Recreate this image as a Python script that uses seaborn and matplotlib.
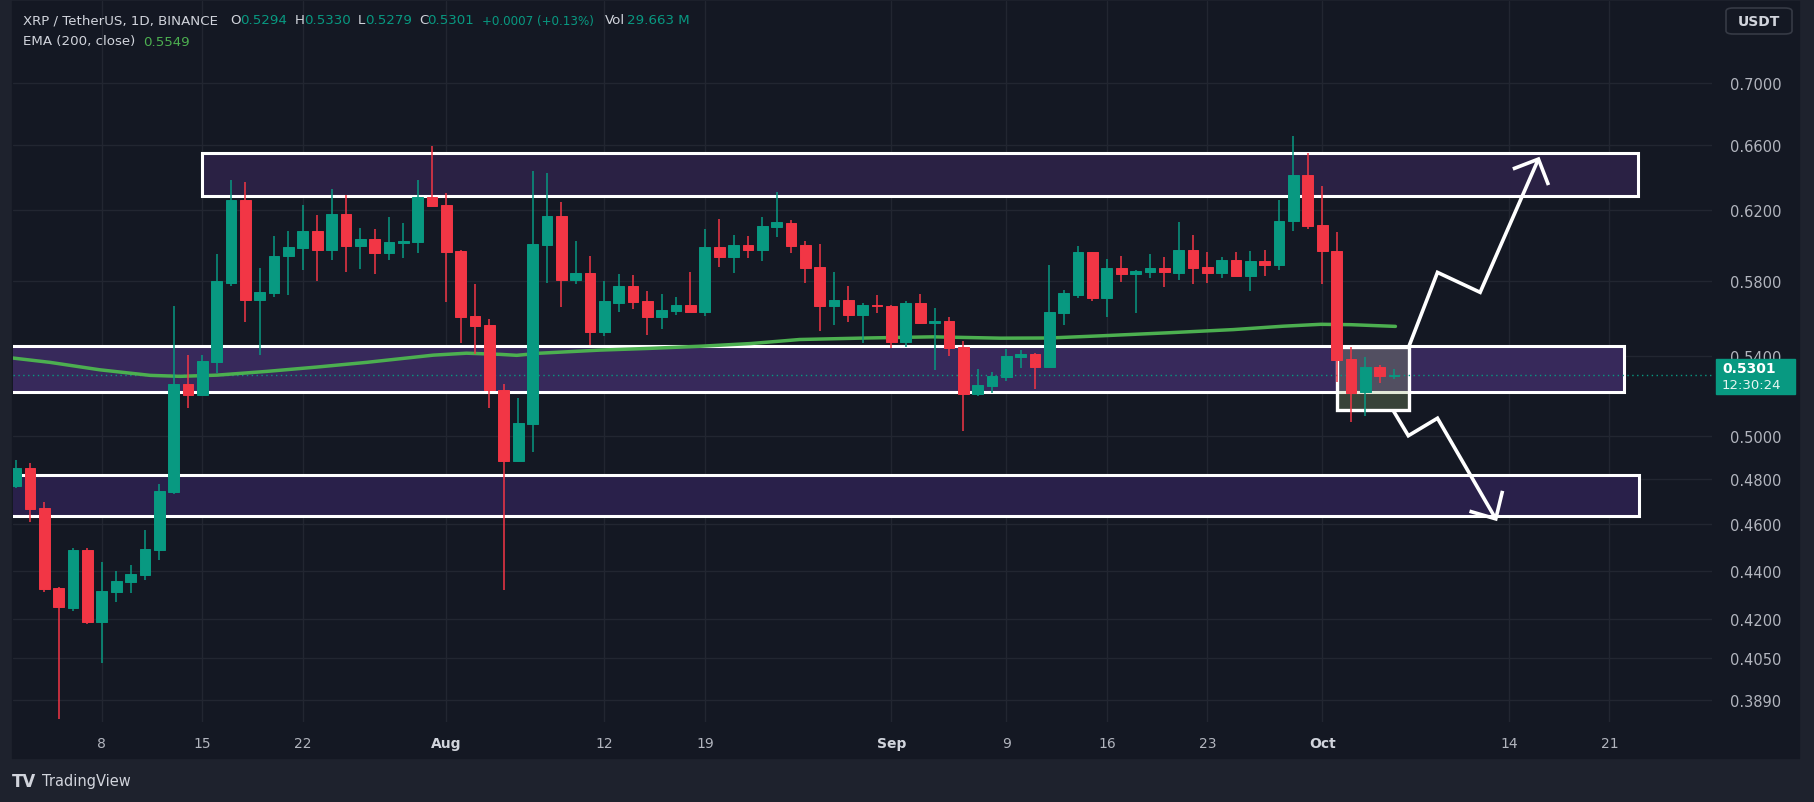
import numpy as np
import pandas as pd
import seaborn as sns
import matplotlib
matplotlib.use("Agg")
import matplotlib.pyplot as plt
from matplotlib.patches import Rectangle, FancyBboxPatch
from matplotlib.ticker import NullLocator
from matplotlib.transforms import blended_transform_factory

# XRP / USDT daily candles, 2 Jul - 6 Oct 2024
dates = pd.date_range("2024-07-02", "2024-10-06", freq="D")
opens = [0.4770, 0.4852, 0.4670, 0.4328, 0.4247, 0.4488, 0.4191, 0.4313, 0.4354, 0.4383,
         0.4488, 0.4743, 0.5256, 0.5203, 0.5369, 0.5788, 0.6262, 0.5692, 0.5731, 0.5937,
         0.5982, 0.6080, 0.5971, 0.6179, 0.5994, 0.6034, 0.5954, 0.6011, 0.6017, 0.6280,
         0.6232, 0.5965, 0.5607, 0.5559, 0.5226, 0.4884, 0.5059, 0.6000, 0.6167, 0.5802,
         0.5841, 0.5522, 0.5677, 0.5770, 0.5688, 0.5602, 0.5634, 0.5666, 0.5628, 0.5988,
         0.5931, 0.6000, 0.5971, 0.6103, 0.6126, 0.6000, 0.5875, 0.5660, 0.5693, 0.5613,
         0.5666, 0.5660, 0.5470, 0.5677, 0.5570, 0.5581, 0.5444, 0.5206, 0.5246, 0.5291,
         0.5393, 0.5408, 0.5341, 0.5623, 0.5720, 0.5960, 0.5703, 0.5869, 0.5836, 0.5847,
         0.5869, 0.5844, 0.5971, 0.5875, 0.5841, 0.5914, 0.5824, 0.5908, 0.5886, 0.6138,
         0.6413, 0.6115, 0.5965, 0.5382, 0.5217, 0.5341, 0.5294]
highs = [0.4890, 0.4875, 0.4696, 0.4331, 0.4496, 0.4496, 0.4436, 0.4398, 0.4424, 0.4574,
         0.4779, 0.5661, 0.5403, 0.5403, 0.5948, 0.6382, 0.6370, 0.5869, 0.6051, 0.6080,
         0.6232, 0.6173, 0.6328, 0.6292, 0.6097, 0.6091, 0.6161, 0.6126, 0.6382, 0.6592,
         0.6304, 0.5970, 0.5780, 0.5591, 0.5256, 0.5186, 0.6437, 0.6425, 0.6250, 0.6022,
         0.5937, 0.5797, 0.5836, 0.5830, 0.5742, 0.5726, 0.5709, 0.5847, 0.6091, 0.6149,
         0.6057, 0.6051, 0.6161, 0.6310, 0.6143, 0.6022, 0.6005, 0.5847, 0.5770, 0.5677,
         0.5720, 0.5666, 0.5688, 0.5726, 0.5650, 0.5602, 0.5476, 0.5331, 0.5316, 0.5434,
         0.5429, 0.5413, 0.5886, 0.5748, 0.5994, 0.5962, 0.5920, 0.5937, 0.5858, 0.5948,
         0.5931, 0.6132, 0.6057, 0.5960, 0.5931, 0.5960, 0.5965, 0.5971, 0.6262, 0.6656,
         0.6549, 0.6346, 0.6074, 0.5443, 0.5392, 0.5352, 0.5330]
lows = [0.4760, 0.4610, 0.4313, 0.3820, 0.4235, 0.4183, 0.4031, 0.4272, 0.4308, 0.4362,
        0.4446, 0.4735, 0.5136, 0.5195, 0.5311, 0.5772, 0.5577, 0.5403, 0.5709, 0.5720,
        0.5858, 0.5797, 0.5914, 0.5847, 0.5863, 0.5836, 0.5914, 0.5925, 0.5954, 0.6220,
        0.5682, 0.5465, 0.5408, 0.5136, 0.4321, 0.4879, 0.4925, 0.5786, 0.5655, 0.5780,
        0.5455, 0.5501, 0.5628, 0.5644, 0.5507, 0.5538, 0.5613, 0.5628, 0.5607, 0.5875,
        0.5841, 0.5925, 0.5908, 0.6045, 0.5954, 0.5786, 0.5528, 0.5560, 0.5575, 0.5465,
        0.5623, 0.5439, 0.5444, 0.5565, 0.5326, 0.5398, 0.5026, 0.5196, 0.5211, 0.5271,
        0.5336, 0.5231, 0.5336, 0.5560, 0.5703, 0.5688, 0.5602, 0.5791, 0.5623, 0.5813,
        0.5764, 0.5802, 0.5780, 0.5786, 0.5813, 0.5824, 0.5742, 0.5824, 0.5858, 0.6080,
        0.6091, 0.5780, 0.5267, 0.5070, 0.5099, 0.5261, 0.5279]
closes = [0.4852, 0.4667, 0.4325, 0.4248, 0.4488, 0.4191, 0.4316, 0.4357, 0.4386, 0.4492,
          0.4747, 0.5256, 0.5203, 0.5372, 0.5797, 0.6262, 0.5692, 0.5737, 0.5937, 0.5988,
          0.6080, 0.5971, 0.6179, 0.5994, 0.6034, 0.5954, 0.6017, 0.6023, 0.6280, 0.6226,
          0.5960, 0.5602, 0.5554, 0.5226, 0.4884, 0.5064, 0.6005, 0.6167, 0.5802, 0.5841,
          0.5522, 0.5688, 0.5770, 0.5682, 0.5602, 0.5639, 0.5666, 0.5628, 0.5988, 0.5931,
          0.6000, 0.5971, 0.6109, 0.6132, 0.5994, 0.5869, 0.5660, 0.5693, 0.5613, 0.5666,
          0.5660, 0.5470, 0.5677, 0.5570, 0.5581, 0.5439, 0.5206, 0.5251, 0.5296, 0.5398,
          0.5408, 0.5341, 0.5628, 0.5731, 0.5960, 0.5703, 0.5869, 0.5836, 0.5852, 0.5869,
          0.5847, 0.5971, 0.5869, 0.5841, 0.5914, 0.5824, 0.5908, 0.5886, 0.6138, 0.6413,
          0.6109, 0.5965, 0.5377, 0.5211, 0.5341, 0.5294, 0.5301]

# EMA(200), days counted from 8 Jul
ema_days = [-6.3, -3.61, -0.13, 3.36, 5.45, 8.0, 11.49, 14.97, 18.45, 23.09, 25.4, 27.74, 28.9, 30.5,
            34.7, 38.2, 41.7, 45.2, 48.6, 53.3, 57.9, 62.6, 66.0, 69.5, 74.2, 78.8, 82.3, 84.9, 87.0, 90.1]
ema_vals = [0.5388, 0.5365, 0.5327, 0.5299, 0.5294, 0.5300, 0.5319, 0.5341, 0.5365, 0.5402, 0.5412,
            0.5406, 0.5401, 0.5412, 0.5428, 0.5437, 0.5448, 0.5462, 0.5483, 0.5491, 0.5497, 0.5490,
            0.5491, 0.5502, 0.5518, 0.5535, 0.5553, 0.5563, 0.5561, 0.5552]

# drawn zones (start day, end day, low, high)
zone_start = [6.95, -12, -12]
zone_end = [107.0, 106.0, 107.07]
zone_low = [0.6288, 0.5217, 0.4634]
zone_high = [0.6549, 0.5451, 0.4818]
zone_colors = ["#2a2144", "#37295b", "#29204a"]

# small consolidation box
box_days = [86.0, 91.05]
box_prices = [0.5128, 0.5446]

# scenario arrows
up_days = [91.06, 93.03, 96.0, 100.06]
up_prices = [0.5451, 0.5845, 0.5735, 0.6511]
up_head_days = [98.28, 100.06, 100.76]
up_head_prices = [0.6450, 0.6511, 0.6352]
down_days = [89.96, 91.0, 93.03, 97.09]
down_prices = [0.5123, 0.5003, 0.5087, 0.4622]
down_head_days = [95.26, 97.09, 97.56]
down_head_prices = [0.4656, 0.4622, 0.4747]

price_ticks = [0.7000, 0.6600, 0.6200, 0.5800, 0.5400, 0.5000, 0.4800, 0.4600, 0.4400, 0.4200, 0.4050, 0.3890]
tick_dates = ["2024-07-08", "2024-07-15", "2024-07-22", "2024-08-01", "2024-08-12", "2024-08-19",
              "2024-09-01", "2024-09-09", "2024-09-16", "2024-09-23", "2024-10-01", "2024-10-14", "2024-10-21"]
tick_labels = ["8", "15", "22", "Aug", "12", "19", "Sep", "9", "16", "23", "Oct", "14", "21"]

last_price = 0.5301

GREEN = "#089981"
RED = "#f23645"
BG = "#141823"
TXT = "#b2b5be"

sns.set_theme(style="dark", rc={"axes.facecolor": BG, "figure.facecolor": "#1e222d"})
plt.rcParams["font.family"] = ["DejaVu Sans"]

W, H = 1814, 803
fig = plt.figure(figsize=(W / 100, H / 100), dpi=100)


def fx(px):
    return px / W


def fy(py):
    return 1 - py / H


# panel background
fig.patches.append(Rectangle((fx(12), fy(759)), fx(1799) - fx(12), fy(2) - fy(759),
                             transform=fig.transFigure, color=BG, zorder=-5))

ax = fig.add_axes([fx(13), fy(723), fx(1712) - fx(13), fy(2) - fy(723)])
ax.set_facecolor(BG)
ax.set_yscale("log")

t0 = pd.Timestamp("2024-07-08")
days = np.array((dates - t0).days, dtype=float)
cols = [GREEN if c >= o else RED for o, c in zip(opens, closes)]

# zones
for x0, x1, lo, hi, colr in zip(zone_start, zone_end, zone_low, zone_high, zone_colors):
    ax.add_patch(Rectangle((x0, lo), x1 - x0, hi - lo, facecolor=colr, edgecolor="none", zorder=1))
    ax.add_patch(Rectangle((x0, lo), x1 - x0, hi - lo, facecolor="none", edgecolor="white", lw=2.2, zorder=2))

ax.add_patch(Rectangle((box_days[0], box_prices[0]), box_days[1] - box_days[0], box_prices[1] - box_prices[0],
                       facecolor="#99b373", alpha=0.28, edgecolor="none", zorder=2))
ax.add_patch(Rectangle((box_days[0], box_prices[0]), box_days[1] - box_days[0], box_prices[1] - box_prices[0],
                       facecolor="none", edgecolor="white", lw=2.4, zorder=2.1))

ax.axhline(last_price, color=GREEN, lw=1, ls=(0, (1, 2.5)), zorder=2.5)

sns.lineplot(x=ema_days, y=ema_vals, ax=ax, color="#4caf50", lw=2.5, zorder=3)

# candles
ax.vlines(days, lows, highs, colors=cols, lw=1.1, zorder=4)
bottoms = np.minimum(opens, closes)
heights = np.abs(np.array(closes) - np.array(opens))
ax.bar(days, heights, bottom=bottoms, width=0.745, color=cols, edgecolor=cols, linewidth=0.7, zorder=4.1)

# arrows
for xs, ys in [(up_days, up_prices), (up_head_days, up_head_prices),
               (down_days, down_prices), (down_head_days, down_head_prices)]:
    ax.plot(xs, ys, color="white", lw=2.6, solid_joinstyle="miter", solid_capstyle="butt", zorder=5)

ax.set_xlim(-6.186, 112.15)
ax.set_ylim(0.3809, 0.7569)

ax.set_axisbelow(True)
ax.grid(True, color="#222631", lw=1)
for s in ax.spines.values():
    s.set_visible(False)

ax.yaxis.tick_right()
ax.set_yticks(price_ticks)
ax.set_yticklabels([f"{v:.4f}" for v in price_ticks])
ax.yaxis.set_minor_locator(NullLocator())
ax.tick_params(axis="y", length=0, pad=13, labelsize=10.5, labelcolor=TXT)

tick_days = [(pd.Timestamp(d) - t0).days for d in tick_dates]
ax.set_xticks(tick_days)
ax.set_xticklabels(tick_labels)
ax.tick_params(axis="x", length=0, pad=10, labelsize=10, labelcolor=TXT)
for lab in ax.get_xticklabels():
    if lab.get_text() in ("Aug", "Sep", "Oct"):
        lab.set_fontweight("bold")
        lab.set_color("#d1d4dc")
ax.set_xlabel("")
ax.set_ylabel("")

# last price label on the price scale
bt = blended_transform_factory(fig.transFigure, ax.transData)
lo_lab = last_price * np.exp(-19 / 1050)
hi_lab = last_price * np.exp(16 / 1050)
fig.patches.append(Rectangle((fx(1716), lo_lab), fx(1795) - fx(1716), hi_lab - lo_lab,
                             transform=bt, color=GREEN, zorder=5))
fig.text(fx(1722), last_price * np.exp(7 / 1050), f"{last_price:.4f}", transform=bt, color="white",
         fontsize=10, fontweight="bold", va="center", ha="left", zorder=6)
fig.text(fx(1722), last_price * np.exp(-10 / 1050), "12:30:24", transform=bt, color="#e8f5f1",
         fontsize=9.5, va="center", ha="left", zorder=6)

# currency button
fig.patches.append(FancyBboxPatch((fx(1726), fy(35)), fx(1792) - fx(1726), fy(9) - fy(35),
                                  boxstyle="round,pad=0,rounding_size=0.004", transform=fig.transFigure,
                                  facecolor=BG, edgecolor="#363a45", lw=1.2, zorder=3))
fig.text(fx(1759), fy(22), "USDT", color="#d1d4dc", fontsize=10, fontweight="bold", ha="center", va="center")

# legend header
hdr = [(23, "XRP / TetherUS, 1D, BINANCE", "#d1d4dc", 9.6), (230, "O", "#d1d4dc", 9.6),
       (240, "0.5294", GREEN, 9.6), (295, "H", "#d1d4dc", 9.6), (304, "0.5330", GREEN, 9.6),
       (358, "L", "#d1d4dc", 9.6), (365, "0.5279", GREEN, 9.6), (419, "C", "#d1d4dc", 9.6),
       (427, "0.5301", GREEN, 9.6), (482, "+0.0007 (+0.13%)", GREEN, 8.6),
       (605, "Vol", "#d1d4dc", 9.6), (627, "29.663 M", GREEN, 9.6)]
for px, s, c, fs in hdr:
    fig.text(fx(px), fy(21), s, color=c, fontsize=fs, ha="left", va="center")
fig.text(fx(23), fy(42), "EMA (200, close)", color="#d1d4dc", fontsize=9.6, ha="left", va="center")
fig.text(fx(143), fy(42), "0.5549", color="#4caf50", fontsize=9.6, ha="left", va="center")

# footer
fig.text(fx(12), fy(782), "TV", color="#d1d4dc", fontsize=12, fontweight="heavy", ha="left", va="center")
fig.text(fx(42), fy(782), "TradingView", color="#d1d4dc", fontsize=10.5, ha="left", va="center")

fig.savefig("out.png", dpi=100, facecolor=fig.get_facecolor())
